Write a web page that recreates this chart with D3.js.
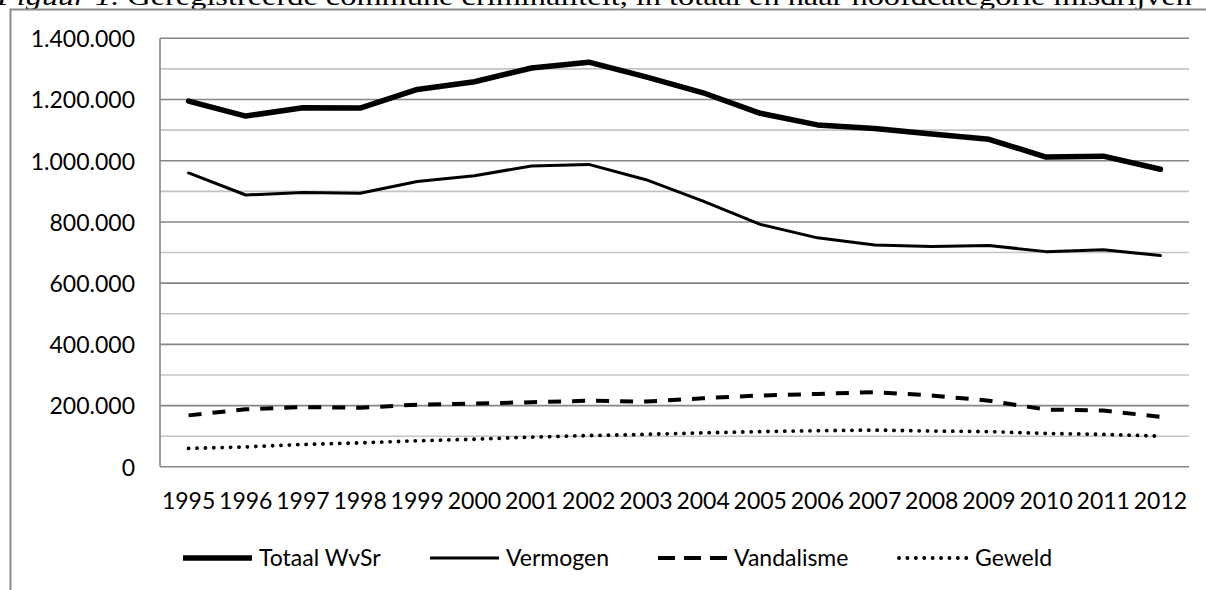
<!DOCTYPE html>
<html>
<head>
<meta charset="utf-8">
<script src="https://cdn.jsdelivr.net/npm/d3@7"></script>
<style>
body { margin: 0; background: #fff; }
svg { display: block; }
.tick text { font-family: Lato, "Open Sans", sans-serif; font-size: 23px; fill: #000; }
</style>
</head>
<body>
<svg id="chart"></svg>
<script>
var years = ["1995","1996","1997","1998","1999","2000","2001","2002","2003",
             "2004","2005","2006","2007","2008","2009","2010","2011","2012"]
var totaal = [1195000,1146000,1173000,1172000,1233000,1258000,1303000,1322000,1274000,
              1222000,1155000,1117000,1105000,1087000,1070000,1012000,1015000,972000]
var vermogen = [960000,888000,896000,894000,932000,951000,983000,988000,938000,
                868000,792000,748000,725000,720000,723000,703000,709000,690000]
var vandalisme = [168000,188000,195000,193000,203000,207000,211000,216000,213000,
                  224000,233000,238000,244000,233000,216000,187000,184000,163000]
var geweld = [60000,65000,73000,78000,85000,90000,97000,102000,106000,
              111000,115000,118000,120000,117000,115000,109000,106000,100000]
var seriesNames = ["Totaal WvSr","Vermogen","Vandalisme","Geweld"]
var yTicks = [0,200000,400000,600000,800000,1000000,1200000,1400000]

var svgw = 1206
var svgh = 590
var margins = {left:160, right:17, top:38.3, bottom:123.2}

var svg = d3.select("#chart")
    .attr("width",svgw)
    .attr("height",svgh)

// title, mostly cut off at the top of the page
svg.append("text")
    .attr("x",-3)
    .attr("y",5)
    .attr("textLength",1195)
    .attr("lengthAdjust","spacingAndGlyphs")
    .style("font-family","'Liberation Serif', 'DejaVu Serif', serif")
    .style("font-size","26px")
    .html("<tspan font-style='italic'>Figuur 1.</tspan> Geregistreerde commune criminaliteit, in totaal en naar hoofdcategorie misdrijven")

// outer frame
svg.append("path")
    .attr("d","M10.5,"+svgh+" L10.5,9.5 L"+svgw+",9.5")
    .attr("fill","none")
    .attr("stroke","#8a8a8a")
    .attr("stroke-width",2)

var xscale = d3.scaleBand()
    .domain(years)
    .range([margins.left, svgw-margins.right])

var yscale = d3.scaleLinear()
    .domain([0,1400000])
    .range([svgh-margins.bottom, margins.top])

var cx = function(y){ return xscale(y)+xscale.bandwidth()/2 }

// gridlines every 100.000, darker on the labelled ones
var grid = d3.range(0,1400001,100000)
svg.append("g")
    .selectAll("line")
    .data(grid)
    .enter()
    .append("line")
    .attr("x1",margins.left)
    .attr("x2",svgw-margins.right)
    .attr("y1",function(d){return yscale(d)})
    .attr("y2",function(d){return yscale(d)})
    .attr("stroke",function(d){ return (d%200000==0) ? "#868686" : "#c4c4c4" })
    .attr("stroke-width",1.6)

// vertical axis line
svg.append("line")
    .attr("x1",margins.left)
    .attr("x2",margins.left)
    .attr("y1",yscale(1400000))
    .attr("y2",yscale(0))
    .attr("stroke","#868686")
    .attr("stroke-width",1.6)

var fmt = d3.formatLocale({decimal:",", thousands:".", grouping:[3], currency:["",""]}).format(",")

var yAxis = d3.axisLeft(yscale)
    .tickValues(yTicks)
    .tickFormat(fmt)
    .tickSize(0)
    .tickPadding(0)
svg.append("g")
    .attr("transform","translate(135,0)")
    .call(yAxis)
    .call(function(g){ g.select(".domain").remove() })
    .selectAll("text")
    .attr("dy","0.36em")

var xAxis = d3.axisBottom(xscale)
    .tickSize(0)
    .tickPadding(0)
svg.append("g")
    .attr("transform","translate(0,"+(yscale(0)+26)+")")
    .call(xAxis)
    .call(function(g){ g.select(".domain").remove() })
    .selectAll("text")
    .attr("dy","0.71em")

var styles = [
    {w:5.5, dash:null, cap:"round"},
    {w:3, dash:null, cap:"round"},
    {w:4, dash:"13,11", cap:"butt"},
    {w:3.8, dash:"0.1,8.3", cap:"round"}
]
var allSeries = [totaal, vermogen, vandalisme, geweld]

var line = d3.line()
    .x(function(d,i){ return cx(years[i]) })
    .y(function(d){ return yscale(d) })

svg.append("g")
    .selectAll("path")
    .data(allSeries)
    .enter()
    .append("path")
    .attr("d",function(d){ return line(d) })
    .attr("fill","none")
    .attr("stroke","#000")
    .attr("stroke-width",function(d,i){ return styles[i].w })
    .attr("stroke-dasharray",function(d,i){ return styles[i].dash })
    .attr("stroke-linecap",function(d,i){ return styles[i].cap })
    .attr("stroke-linejoin","round")

// legend
var legendX = [183,430,658,899]
var legendY = 558
var entries = svg.append("g")
    .selectAll("g")
    .data(seriesNames)
    .enter()
    .append("g")
    .attr("transform",function(d,i){ return "translate("+legendX[i]+","+legendY+")" })

entries.append("line")
    .attr("x1",0)
    .attr("x2",69)
    .attr("stroke","#000")
    .attr("stroke-width",function(d,i){ return styles[i].w })
    .attr("stroke-dasharray",function(d,i){ return i==2 ? "17,9" : styles[i].dash })
    .attr("stroke-linecap",function(d,i){ return i==3 ? "round" : "butt" })

entries.append("text")
    .text(function(d){ return d })
    .attr("x",76)
    .attr("dy","0.36em")
    .style("font-family","Lato, 'Open Sans', sans-serif")
    .style("font-size","23px")
</script>
</body>
</html>
